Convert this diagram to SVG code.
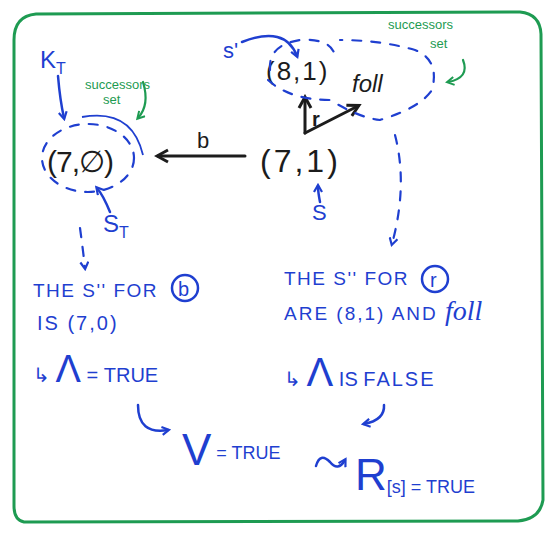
<svg xmlns="http://www.w3.org/2000/svg" width="554" height="536" viewBox="0 0 554 536">
<defs>
<style>
.bk{fill:#1c1c1c;font-family:"Liberation Sans",sans-serif}
.bl{fill:#1f3fd0;font-family:"Liberation Sans",sans-serif}
.gr{fill:#1e9b52;font-family:"Liberation Sans",sans-serif;font-size:13px}
.lb{fill:none;stroke:#1f3fd0;stroke-width:2.5;stroke-linecap:round}
.ld{fill:none;stroke:#1f3fd0;stroke-width:2.2;stroke-dasharray:9 10;stroke-linecap:round}
.lk{fill:none;stroke:#1c1c1c;stroke-width:3;stroke-linecap:round}
.lg{fill:none;stroke:#1e9b52;stroke-width:2.2;stroke-linecap:round}
</style>
<marker id="ab" markerWidth="10" markerHeight="10" refX="7" refY="5" orient="auto" markerUnits="userSpaceOnUse"><path d="M1 1 L8 5 L1 9" fill="none" stroke="#1f3fd0" stroke-width="2.2"/></marker>
<marker id="ak" markerWidth="16" markerHeight="16" refX="12" refY="8" orient="auto" markerUnits="userSpaceOnUse"><path d="M2 2 L13 8 L2 14" fill="none" stroke="#1c1c1c" stroke-width="3"/></marker>
<marker id="ag" markerWidth="10" markerHeight="10" refX="7" refY="5" orient="auto" markerUnits="userSpaceOnUse"><path d="M1 1 L8 5 L1 9" fill="none" stroke="#1e9b52" stroke-width="2"/></marker>
</defs>
<rect width="554" height="536" fill="#fff"/>
<path d="M14 40 Q14 16 36 14 L520 12 Q540 14 541 34 L543 500 Q540 519 518 521 L24 522 Q14 520 14 506 Z" fill="none" stroke="#1e9b52" stroke-width="3"/>

<g id="node-70">
<text x="47" y="172" class="bk" font-size="30" letter-spacing="-1">(7,∅)</text>
<ellipse cx="88" cy="158" rx="46" ry="34" class="ld"/>
</g>
<g id="node-71">
<text x="260" y="172" class="bk" font-size="32" letter-spacing="3">(7,1)</text>
</g>
<g id="node-81">
<text x="266" y="80" class="bk" font-size="26" letter-spacing="2">(8,1)</text>
</g>
<g id="node-foll">
<text x="352" y="92" class="bk" font-size="24" font-style="italic" font-family="Liberation Serif,serif">foll</text>
</g>
<g id="labels">
<text x="40" y="68" class="bl" font-size="24">K<tspan font-size="16" dy="6">T</tspan></text>
<text x="103" y="232" class="bl" font-size="24">S<tspan font-size="16" dy="6">T</tspan></text>
<text x="312" y="220" class="bl" font-size="22">S</text>
<text x="223" y="58" class="bl" font-size="22">s'</text>
<text x="85" y="89" class="gr" font-size="14">successors</text>
<text x="103" y="104" class="gr" font-size="14">set</text>
<text x="388" y="29" class="gr" font-size="14">successors</text>
<text x="430" y="48" class="gr" font-size="14">set</text>
<text x="197" y="148" class="bk" font-size="22">b</text>
<text x="312" y="126" class="bk" font-size="20" font-weight="bold">r</text>
</g>
<g id="connectors">
<path d="M245 156 L158 156" class="lk" marker-end="url(#ak)"/>
<path d="M305 133 L305 98" class="lk" marker-end="url(#ak)"/>
<path d="M305 133 L358 106" class="lk" marker-end="url(#ak)"/>
<path d="M58 76 Q60 100 64 118" class="lb" marker-end="url(#ab)"/>
<path d="M110 212 Q103 195 97 188" class="lb" marker-end="url(#ab)"/>
<path d="M320 202 Q318 192 318 186" class="lb" marker-end="url(#ab)"/>
<path d="M242 42 Q285 25 297 56" class="lb" marker-end="url(#ab)"/>
<path d="M143 82 Q150 105 138 118" class="lg" marker-end="url(#ag)"/>
<path d="M463 60 Q470 78 448 82" class="lg" marker-end="url(#ag)"/>
<path d="M82 117 Q132 108 143 155" fill="none" stroke="#1f3fd0" stroke-width="1.8"/>
<path d="M270 70 Q268 45 300 40 Q330 38 335 55" class="ld"/>
<path d="M268 80 Q290 100 330 100 Q360 118 380 120 Q420 108 432 90 Q440 60 415 50 Q380 40 340 40" class="ld"/>
<path d="M395 135 Q408 185 392 244" class="ld" marker-end="url(#ab)"/>
<path d="M80 228 Q83 250 85 268" class="ld" marker-end="url(#ab)"/>
<path d="M138 405 Q138 435 168 430" class="lb" marker-end="url(#ab)"/>
<path d="M384 405 Q385 420 364 424" class="lb" marker-end="url(#ab)"/>
<path d="M316 466 Q320 452 330 462 Q338 472 345 460" class="lb" marker-end="url(#ab)"/>
</g>
<g id="text-left">
<text x="33" y="297" class="bl" font-size="19" letter-spacing="1.5">THE S'' FOR</text>
<circle cx="185" cy="288" r="13" class="lb"/>
<text x="178" y="296" class="bl" font-size="20">b</text>
<text x="37" y="330" class="bl" font-size="20" letter-spacing="2">IS (7,0)</text>
<text x="33" y="382" class="bl" font-size="20">↳ <tspan font-size="38">Λ</tspan> = TRUE</text>
</g>
<g id="text-right">
<text x="284" y="285" class="bl" font-size="19" letter-spacing="1.5">THE S'' FOR</text>
<circle cx="435" cy="279" r="13" class="lb"/>
<text x="430" y="287" class="bl" font-size="20">r</text>
<text x="284" y="320" class="bl" font-size="19" letter-spacing="2">ARE (8,1) AND <tspan font-family="Liberation Serif,serif" font-style="italic" font-size="28" letter-spacing="0">foll</tspan></text>
<text x="284" y="386" class="bl" font-size="20">↳ <tspan font-size="40">Λ</tspan> IS <tspan letter-spacing="2">FALSE</tspan></text>
</g>
<g id="text-bottom">
<text x="182" y="465" class="bl" font-size="44">V<tspan font-size="18" dy="-6"> = TRUE</tspan></text>
<text x="355" y="490" class="bl" font-size="44">R<tspan font-size="18" dy="3">[s] = TRUE</tspan></text>
</g>
</svg>
